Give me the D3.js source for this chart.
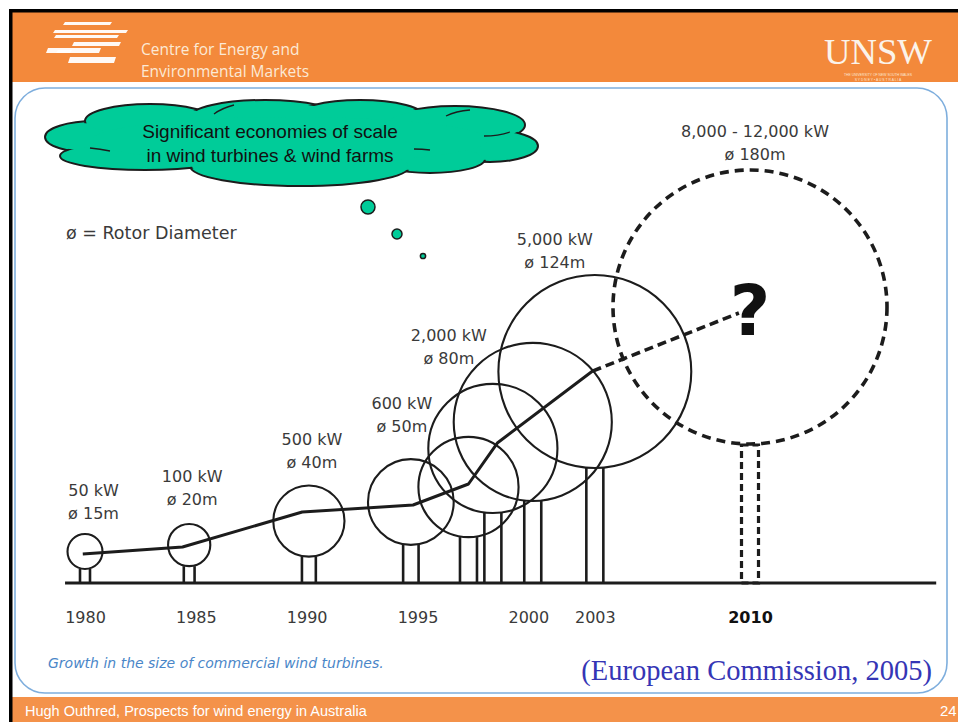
<!DOCTYPE html>
<html><head><meta charset="utf-8">
<script src="https://cdn.jsdelivr.net/npm/d3@7/dist/d3.min.js"></script>
<style>html,body{margin:0;padding:0;background:#fff;overflow:hidden}</style>
</head><body>
<svg id="c" width="958" height="722"></svg>
<script>
// ---------- data ----------
const turbineYears   = [1980, 1984.7, 1990.1, 1994.7, 1997.3, 1998.4, 2000.2, 2003, 2010];
const rotorDiameters = [15, 20, 40, 50, 60, 80, 100, 124, 180];
const hubHeights     = [21, 25.3, 41.3, 54, 64, 89.7, 107.4, 141, 184];
const ratingLabels   = ["50 kW", "100 kW", "500 kW", "600 kW", "2,000 kW", "5,000 kW", "8,000 - 12,000 kW"];
const diameterLabels = ["ø 15m", "ø 20m", "ø 40m", "ø 50m", "ø 80m", "ø 124m", "ø 180m"];
const labelledTurbines = [0, 1, 2, 3, 5, 7, 8];
const trendYears   = [1979.9, 1984.4, 1989.8, 1994.8, 1997.3, 1998.6, 2002.9, 2009.5];
const trendHeights = [19.3, 24, 47.3, 52, 66, 93.3, 141.3, 180];
const tickYears    = [1980, 1985, 1990, 1995, 2000, 2003, 2010];
const axisSpan     = [1979.1, 2018.4];
const cloudText    = ["Significant economies of scale", "in wind turbines & wind farms"];

// ---------- layout ----------
const svg = d3.select('#c');
const x = d3.scaleLinear().domain([1980, 2010]).range([85, 750]);
const y = d3.scaleLinear().domain([0, 200]).range([583, 283]);
const r = d3.scaleLinear().domain([15, 180]).range([17.5, 137]);
const halfTower = d3.scaleLinear().domain([15, 60]).range([5, 8.5]).clamp(true);
// label nudges (dx from hub, gap above rotor top to 2nd line baseline)
const labelNudge = [[8.5,15],[3,19],[3,17],[-9,27],[-44,20],[-40,7],[5,10]];

const INK = '#1c1c1c', LABEL = '#3a3a3a';
const GREEN = '#00CC99';
const ORANGE = '#F3893B';

// slide background & frame
svg.append('rect').attr('width',958).attr('height',722).attr('fill','#fff');
svg.append('rect').attr('x',12).attr('y',12).attr('width',946).attr('height',70).attr('fill',ORANGE);
svg.append('rect').attr('x',12).attr('y',697).attr('width',946).attr('height',25).attr('fill','#F4924A');
svg.append('rect').attr('x',9).attr('y',9).attr('width',949).attr('height',3.5).attr('fill','#000');
svg.append('rect').attr('x',9).attr('y',9).attr('width',3.5).attr('height',713).attr('fill','#000');

// header logo bars
const bars = [[65,22,112,22,110,25,63,25],[55,30,128,30,126,33,53,33],[56,35,119,35,117,38,54,38],
              [74,42,121,42,119,46,72,46],[48,48,101,48,99,53,46,53],[70,57,116,57,114,63,68,63],
              [58,50,72,50,70,53,56,53]];
svg.append('g').selectAll('polygon').data(bars).join('polygon')
  .attr('points', d => `${d[0]},${d[1]} ${d[2]},${d[3]} ${d[4]},${d[5]} ${d[6]},${d[7]}`)
  .attr('fill','#fff').attr('opacity',0.95);
svg.append('text').attr('x',141).attr('y',55).text('Centre for Energy and')
  .attr('font-family','Open Sans, Noto Sans, sans-serif').attr('font-size',15.5).attr('fill','#FCE9D6');
svg.append('text').attr('x',141).attr('y',77).text('Environmental Markets')
  .attr('font-family','Open Sans, Noto Sans, sans-serif').attr('font-size',15.5).attr('fill','#FCE9D6');
svg.append('text').attr('x',878).attr('y',64).attr('text-anchor','middle').text('UNSW')
  .attr('font-family','Liberation Serif, serif').attr('font-size',35).attr('fill','#FBF3EA')
  .attr('textLength',108).attr('lengthAdjust','spacingAndGlyphs');
svg.append('text').attr('x',878).attr('y',76).attr('text-anchor','middle').text('THE UNIVERSITY OF NEW SOUTH WALES')
  .attr('font-family','Liberation Sans, sans-serif').attr('font-size',3.4).attr('fill','#FBE6D2');
svg.append('text').attr('x',878).attr('y',81).attr('text-anchor','middle').text('S Y D N E Y  •  A U S T R A L I A')
  .attr('font-family','Liberation Sans, sans-serif').attr('font-size',3.4).attr('fill','#FBE6D2');

// content panel
svg.append('rect').attr('x',15).attr('y',88).attr('width',932).attr('height',605).attr('rx',30)
  .attr('fill','#fff').attr('stroke','#7EAEDD').attr('stroke-width',1.6);

// ---------- cloud ----------
const lobes = [[95,137,50,16],[150,121,65,17],[265,117,75,17],[360,117,65,17],[455,125,70,19],
               [490,146,48,16],[430,159,55,14],[300,166,110,20],[145,156,85,14]];
const cloud = svg.append('g');
cloud.selectAll('ellipse.o').data(lobes).join('ellipse').attr('class','o')
  .attr('cx',d=>d[0]).attr('cy',d=>d[1]).attr('rx',d=>d[2]).attr('ry',d=>d[3])
  .attr('fill',GREEN).attr('stroke',INK).attr('stroke-width',2);
cloud.selectAll('ellipse.i').data(lobes.concat([[290,140,200,25]])).join('ellipse').attr('class','i')
  .attr('cx',d=>d[0]).attr('cy',d=>d[1]).attr('rx',d=>d[2]-2).attr('ry',d=>d[3]-2)
  .attr('fill',GREEN);
// interior cloud arcs (kept away from the text)
const arcs = ['M214,114 Q222,108 234,105','M446,116 Q456,111 470,110','M510,132 Q498,136 484,136',
              'M110,151 Q100,149 90,148','M430,150 Q422,149 414,149'];
cloud.selectAll('path').data(arcs).join('path').attr('d',d=>d).attr('fill','none')
  .attr('stroke',INK).attr('stroke-width',1.3);
cloud.selectAll('text').data(cloudText).join('text')
  .attr('x',270).attr('y',(d,i)=>138+i*24).attr('text-anchor','middle').text(d=>d)
  .attr('font-family','Liberation Sans, Arial, sans-serif').attr('font-size',19).attr('fill','#111');
// thought bubbles
svg.append('g').selectAll('circle').data([[368,207,7],[397,234,5],[423,256,2.6]]).join('circle')
  .attr('cx',d=>d[0]).attr('cy',d=>d[1]).attr('r',d=>d[2])
  .attr('fill',GREEN).attr('stroke',INK).attr('stroke-width',1.5);

// legend text
svg.append('text').attr('x',66).attr('y',239).text('ø = Rotor Diameter')
  .attr('font-family','DejaVu Sans, sans-serif').attr('font-size',17.5).attr('fill',LABEL);

// ---------- turbines ----------
const turbines = turbineYears.map((yr,i)=>({yr, d:rotorDiameters[i], h:hubHeights[i], future: yr>2005}));
const chart = svg.append('g');

// baseline
chart.append('line').attr('x1',x(axisSpan[0])).attr('x2',x(axisSpan[1]))
  .attr('y1',y(0)).attr('y2',y(0)).attr('stroke',INK).attr('stroke-width',3.2);

// towers
turbines.forEach(t=>{
  const cx = x(t.yr), hw = halfTower(t.d), top = y(t.h)+r(t.d);
  if (t.future) {
    chart.append('rect').attr('x',cx-hw).attr('y',top+1).attr('width',2*hw).attr('height',y(0)-top-1)
      .attr('fill','none').attr('stroke',INK).attr('stroke-width',3.2).attr('stroke-dasharray','7 4');
  } else {
    [-hw, hw].forEach(o=>chart.append('line').attr('x1',cx+o).attr('x2',cx+o)
      .attr('y1',top).attr('y2',y(0)).attr('stroke',INK).attr('stroke-width',2.6));
  }
});
// rotors
chart.selectAll('circle').data(turbines).join('circle')
  .attr('cx',t=>x(t.yr)).attr('cy',t=>y(t.h)).attr('r',t=>r(t.d))
  .attr('fill','none').attr('stroke',INK)
  .attr('stroke-width',t=>t.future?3.6:2.1)
  .attr('stroke-dasharray',t=>t.future?'9 6':null);

// trend line
const trend = trendYears.map((yr,i)=>[x(yr), y(trendHeights[i])]);
const lineGen = d3.line().curve(d3.curveLinear);
chart.append('path').attr('d',lineGen(trend.slice(0,7))).attr('fill','none')
  .attr('stroke',INK).attr('stroke-width',3).attr('stroke-linejoin','round');
chart.append('path').attr('d',lineGen(trend.slice(6))).attr('fill','none')
  .attr('stroke',INK).attr('stroke-width',3.6).attr('stroke-dasharray','9 5');

// question mark
const fut = turbines[turbines.length-1];
chart.append('text').attr('x',x(fut.yr)).attr('y',y(fut.h)+28).attr('text-anchor','middle').text('?')
  .attr('font-family','DejaVu Sans, sans-serif').attr('font-weight','bold').attr('font-size',70).attr('fill','#111');

// labels
labelledTurbines.forEach((ti,k)=>{
  const t = turbines[ti];
  const lx = x(t.yr)+labelNudge[k][0];
  const b2 = y(t.h)-r(t.d)-labelNudge[k][1];
  [ratingLabels[k], diameterLabels[k]].forEach((s,j)=>{
    chart.append('text').attr('x',lx).attr('y',b2-23*(1-j)).attr('text-anchor','middle').text(s)
      .attr('font-family','DejaVu Sans, sans-serif').attr('font-size',16).attr('fill',LABEL);
  });
});

// axis labels
const axis = d3.axisBottom(x).tickValues(tickYears).tickFormat(d3.format('d')).tickSize(0).tickPadding(28.6);
const ag = chart.append('g').attr('transform',`translate(0,${y(0)})`).call(axis);
ag.select('.domain').remove();
ag.selectAll('text').attr('font-family','DejaVu Sans, sans-serif').attr('font-size',16)
  .attr('fill',d=>d===2010?'#111':LABEL).attr('font-weight',d=>d===2010?'bold':'normal');

// ---------- captions ----------
svg.append('text').attr('x',48).attr('y',668).text('Growth in the size of commercial wind turbines.')
  .attr('font-family','DejaVu Sans, Verdana, sans-serif').attr('font-style','italic').attr('font-size',14)
  .attr('fill','#4A86C8');
svg.append('text').attr('x',932).attr('y',680).attr('text-anchor','end').text('(European Commission, 2005)')
  .attr('font-family','Liberation Serif, Times New Roman, serif').attr('font-size',28.5).attr('fill','#3535B5');
svg.append('text').attr('x',25).attr('y',716).text('Hugh Outhred, Prospects for wind energy in Australia')
  .attr('font-family','Liberation Sans, Arial, sans-serif').attr('font-size',14.5).attr('fill','#fff');
svg.append('text').attr('x',940).attr('y',716).text('24')
  .attr('font-family','Liberation Sans, Arial, sans-serif').attr('font-size',15).attr('fill','#fff');
</script>
</body></html>
